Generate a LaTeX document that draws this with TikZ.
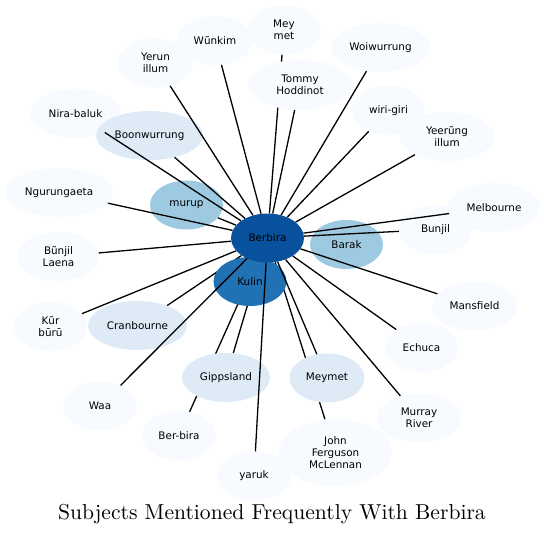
\documentclass[tikz,border=0pt]{standalone}
\usepackage{fontspec}
\newfontfamily\labelfont{DejaVu Sans}
\newfontfamily\titlefont{lmroman10-regular}[Extension=.otf]
\usetikzlibrary{shapes.geometric, backgrounds}

\definecolor{blue0}{HTML}{F7FBFF}
\definecolor{blue1}{HTML}{DEEBF7}
\definecolor{blue2}{HTML}{9ECAE1}
\definecolor{blue3}{HTML}{2171B5}
\definecolor{blue4}{HTML}{08519C}

\begin{document}
\begin{tikzpicture}[x=1pt,y=-1pt,
    base node/.style={ellipse,draw=none,inner sep=0pt,align=center,minimum width=73pt,minimum height=49pt,
      font=\labelfont\fontsize{10.4}{11.8}\selectfont},
    faint node/.style={base node,fill=blue0}, pale node/.style={base node,fill=blue1},
    mid node/.style={base node,fill=blue2}, deep node/.style={base node,fill=blue3},
    hub node/.style={base node,fill=blue4},
    link/.style={draw=black,line width=1.3pt}]

\useasboundingbox (0,0) rectangle (544,536);

\node[deep node]                      (1)  at (250,281.5)   {Kulin};
\node[mid node]                       (2)  at (346.5,244.5) {Barak};
\node[hub node]                       (0)  at (267.5,238)   {Berbira};
\node[mid node]                       (3)  at (186.5,205)   {murup};
\node[faint node, minimum width=91pt] (4)  at (75.5,113.5)  {Nira-baluk};
\node[pale node, minimum width=107pt] (5)  at (149.5,135.5) {Boonwurrung};
\node[faint node, minimum width=75pt] (6)  at (155.5,63)    {Yerun\\illum};
\node[faint node, minimum width=75pt] (7)  at (215,40.5)    {Wũnkim};
\node[faint node]                     (8)  at (284,30)      {Mey\\met};
\node[faint node, minimum width=104pt, minimum height=50pt] (9) at (300,85) {Tommy\\Hoddinot};
\node[faint node, minimum width=99pt] (10) at (380.5,47.5)  {Woiwurrung};
\node[faint node]                     (11) at (388.5,110.5) {wiri-giri};
\node[faint node, minimum width=94pt] (12) at (447,136.5)   {Yeerũng\\illum};
\node[faint node, minimum width=92pt] (13) at (494,207.5)   {Melbourne};
\node[faint node]                     (14) at (435.5,229.5) {Bunjil};
\node[faint node, minimum width=85pt] (15) at (474.5,306)   {Mansfield};
\node[faint node]                     (16) at (421.5,347.5) {Echuca};
\node[faint node, minimum width=84pt] (17) at (419,418)     {Murray\\River};
\node[faint node, minimum width=113pt, minimum height=67pt] (18) at (335.5,452.5) {John\\Ferguson\\McLennan};
\node[pale node, minimum width=75pt]  (19) at (327,378)     {Meymet};
\node[faint node, minimum width=74pt] (20) at (254,476)     {yaruk};
\node[faint node, minimum width=74pt] (21) at (179,435.5)   {Ber-bira};
\node[pale node, minimum width=88pt]  (22) at (226,377.5)   {Gippsland};
\node[faint node, minimum width=74pt] (23) at (100,406)     {Waa};
\node[pale node, minimum width=99pt]  (24) at (137.5,325.5) {Cranbourne};
\node[faint node]                     (25) at (50.5,326.5)  {Kũr\\būrū};
\node[faint node, minimum width=81pt] (26) at (58.5,256.5)  {Bũnjil\\Laena};
\node[faint node, minimum width=108pt] (27) at (59,192.5)   {Ngurungaeta};

\node[font=\titlefont\fontsize{21.6}{26}\selectfont, anchor=base] (title) at (272,519) {Subjects Mentioned Frequently With Berbira};

\begin{pgfonlayer}{background}
\path[link]
(0) edge[link] (8)
(0) edge[link] (18)
(0) edge[link] (21)
(0) edge[link] (22)
(0) edge[link] (24)
;
\end{pgfonlayer}

\path[link]
(0) edge[link] (3)
(0) edge[link] (4)
(0) edge[link] (5)
(0) edge[link] (6)
(0) edge[link] (7)
(0) edge[link] (9)
(0) edge[link] (10)
(0) edge[link] (11)
(0) edge[link] (12)
(0) edge[link] (13)
(0) edge[link] (14)
(0) edge[link] (15)
(0) edge[link] (16)
(0) edge[link] (17)
(0) edge[link] (19)
(0) edge[link] (20)
(0) edge[link] (23)
(0) edge[link] (25)
(0) edge[link] (26)
(0) edge[link] (27)
;
\end{tikzpicture}
\end{document}
